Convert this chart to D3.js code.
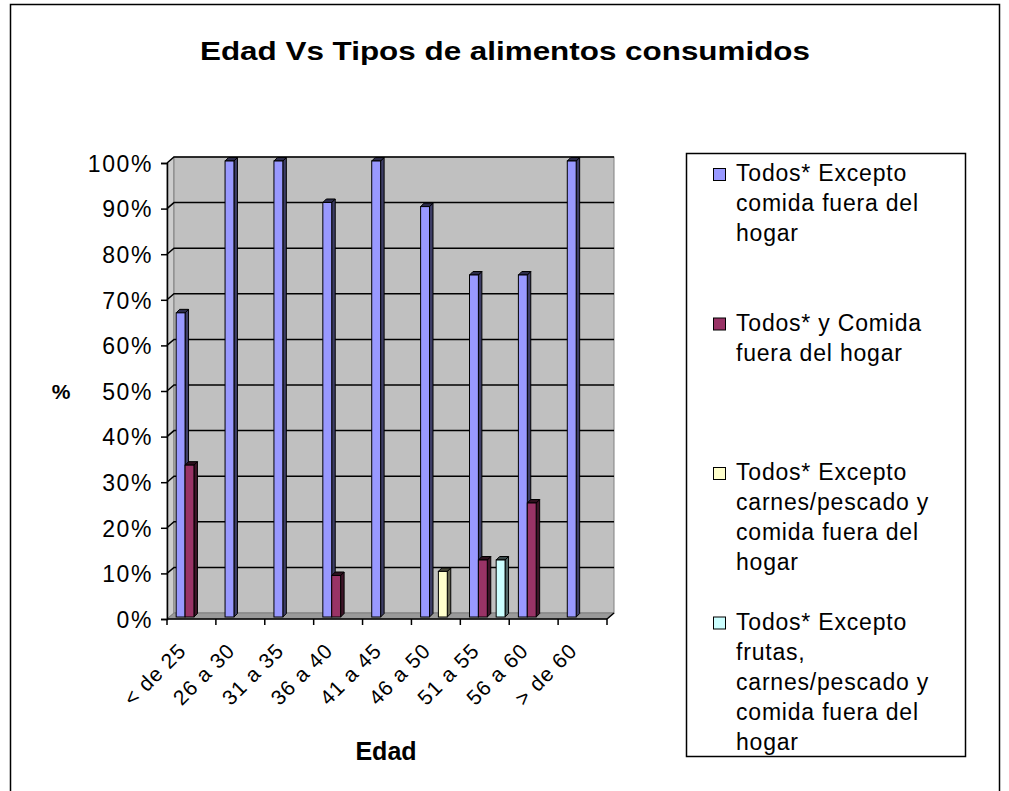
<!DOCTYPE html>
<html>
<head>
	<meta charset="utf-8">
	<script type="text/javascript" src="https://cdn.jsdelivr.net/npm/d3@7"></script>
	<style type="text/css">
		body { margin: 0; background: #fff; }
		text { font-family: Arial, "Liberation Sans", sans-serif; fill: #000; }
	</style>
</head>
<body>
<script type="text/javascript">

var categories = ["< de 25", "26 a 30", "31 a 35", "36 a 40", "41 a 45", "46 a 50", "51 a 55", "56 a 60", "> de 60"];

var todosExcepto = [66.7, 100, 100, 90.9, 100, 90, 75, 75, 100];
var todosYComida = [33.3, 0, 0, 9.1, 0, 0, 12.5, 25, 0];
var exceptoCarnes = [0, 0, 0, 0, 0, 10, 0, 0, 0];
var exceptoFrutas = [0, 0, 0, 0, 0, 0, 12.5, 0, 0];

var seriesColors = ["#9999ff", "#993366", "#ffffcc", "#ccffff"];

var legendLabels = [
	["Todos* Excepto", "comida fuera del", "hogar"],
	["Todos* y Comida", "fuera del hogar"],
	["Todos* Excepto", "carnes/pescado y", "comida fuera del", "hogar"],
	["Todos* Excepto", "frutas,", "carnes/pescado y", "comida fuera del", "hogar"]
];

var yTicks = [0, 10, 20, 30, 40, 50, 60, 70, 80, 90, 100];

var width = 1009,
	height = 791,
	depthX = 7,     // back wall offset
	depthY = -6,
	barDX = 3.5,    // bar depth
	barDY = -3.5,
	faceDX = 2.5,   // bar front plane offset
	faceDY = -2;

var allSeries = [todosExcepto, todosYComida, exceptoCarnes, exceptoFrutas];

var svg = d3.select("body").append("svg")
	.attr("width", width)
	.attr("height", height);

// outer frame
svg.append("rect")
	.attr("x", 10.5).attr("y", 4.5)
	.attr("width", 989).attr("height", 800)
	.attr("fill", "none").attr("stroke", "#000").attr("stroke-width", 1.5);

svg.append("text")
	.attr("x", 200).attr("y", 60)
	.attr("textLength", 610)
	.attr("lengthAdjust", "spacingAndGlyphs")
	.style("font-size", "26px").style("font-weight", "bold")
	.text("Edad Vs Tipos de alimentos consumidos");

var x = d3.scaleBand()
	.domain(categories)
	.range([167, 607])
	.paddingInner(0).paddingOuter(0);

var y = d3.scaleLinear()
	.domain([0, 100])
	.range([619, 163]);

var bw = x.bandwidth(),
	barW = bw / (allSeries.length + 1.5),
	barOff = barW * 0.75;

var x0 = x.range()[0], x1 = x.range()[1];

// side wall
svg.append("path")
	.attr("d", "M" + x0 + "," + y(0) + " L" + x0 + "," + y(100) + " L" + (x0 + depthX) + "," + (y(100) + depthY) + " L" + (x0 + depthX) + "," + (y(0) + depthY) + " Z")
	.attr("fill", "#cdcdcd").attr("stroke", "#808080");

// back wall
svg.append("rect")
	.attr("x", x0 + depthX).attr("y", y(100) + depthY)
	.attr("width", x1 - x0).attr("height", y(0) - y(100))
	.attr("fill", "#c0c0c0").attr("stroke", "#808080");

// floor
svg.append("path")
	.attr("d", "M" + x0 + "," + y(0) + " L" + x1 + "," + y(0) + " L" + (x1 + depthX) + "," + (y(0) + depthY) + " L" + (x0 + depthX) + "," + (y(0) + depthY) + " Z")
	.attr("fill", "#9a9a9a").attr("stroke", "#808080");

// gridlines
var grid = svg.append("g").attr("stroke", "#000").attr("stroke-width", 1.5).attr("fill", "none");
grid.selectAll("path")
	.data(yTicks.filter(function(t) { return t > 0; }))
  .enter().append("path")
	.attr("d", function(t) {
		return "M" + x0 + "," + y(t) + " L" + (x0 + depthX) + "," + (y(t) + depthY) + " H" + (x1 + depthX);
	});

// y axis
var yAxis = svg.append("g").attr("transform", "translate(" + x0 + ",0)")
	.call(d3.axisLeft(y).tickValues(yTicks).tickSize(6).tickPadding(10).tickFormat(function(d) { return d + "%"; }));
yAxis.select(".domain").attr("stroke-width", 1.5);
yAxis.selectAll(".tick line").attr("stroke-width", 1.5);
yAxis.selectAll(".tick text")
	.attr("font-family", null).attr("x", -14)
	.style("font-size", "23px").style("letter-spacing", "1.6px")
	.attr("dy", "0.36em");

svg.append("text")
	.attr("x", 61).attr("y", y(50) + 8)
	.attr("text-anchor", "middle")
	.style("font-size", "21px").style("font-weight", "bold")
	.text("%");

// x axis
var xAxis = svg.append("g").attr("transform", "translate(0," + y(0) + ")");
xAxis.append("line")
	.attr("x1", x0).attr("x2", x1).attr("y1", 0).attr("y2", 0)
	.attr("stroke", "#000").attr("stroke-width", 1.5);
xAxis.append("line")
	.attr("x1", x1).attr("x2", x1 + depthX).attr("y1", 0).attr("y2", depthY)
	.attr("stroke", "#000").attr("stroke-width", 1.5);
xAxis.selectAll("line.tick")
	.data(categories.concat(["end"]))
  .enter().append("line")
	.attr("class", "tick")
	.attr("x1", function(d, i) { return x0 + i * bw; })
	.attr("x2", function(d, i) { return x0 + i * bw; })
	.attr("y1", 0).attr("y2", 6)
	.attr("stroke", "#000").attr("stroke-width", 1.5);
xAxis.selectAll("text")
	.data(categories)
  .enter().append("text")
	.attr("text-anchor", "end")
	.attr("transform", function(d) { return "translate(" + (x(d) + bw / 2 - 4) + ",33) rotate(-45)"; })
	.style("font-size", "21px").style("letter-spacing", "1px")
	.text(function(d) { return d; });

svg.append("text")
	.attr("x", 386).attr("y", 760)
	.attr("text-anchor", "middle")
	.style("font-size", "25px").style("font-weight", "bold")
	.text("Edad");

// bars
var bars = [];
categories.forEach(function(c, ci) {
	allSeries.forEach(function(s, si) {
		if (s[ci] > 0) bars.push({ cat: c, series: si, value: s[ci] });
	});
});

var barG = svg.selectAll("g.bar")
	.data(bars)
  .enter().append("g")
	.attr("class", "bar")
	.attr("stroke", "#000").attr("stroke-width", 1);

barG.append("path")
	.attr("fill", function(d) { return d3.color(seriesColors[d.series]).darker(2.6); })
	.attr("d", function(d) {
		var b = barBox(d);
		return "M" + (b.left + barW) + "," + b.top + " l" + barDX + "," + barDY + " V" + (b.bottom + barDY) + " l" + (-barDX) + "," + (-barDY) + " Z";
	});

barG.append("path")
	.attr("fill", function(d) { return d3.color(seriesColors[d.series]).darker(3.5); })
	.attr("d", function(d) {
		var b = barBox(d);
		return "M" + b.left + "," + b.top + " l" + barDX + "," + barDY + " h" + barW + " l" + (-barDX) + "," + (-barDY) + " Z";
	});

barG.append("rect")
	.attr("fill", function(d) { return seriesColors[d.series]; })
	.attr("x", function(d) { return barBox(d).left; })
	.attr("y", function(d) { return barBox(d).top; })
	.attr("width", barW)
	.attr("height", function(d) { var b = barBox(d); return b.bottom - b.top; });

// legend
svg.append("rect")
	.attr("x", 686.5).attr("y", 153.5)
	.attr("width", 279).attr("height", 603)
	.attr("fill", "#fff").attr("stroke", "#000").attr("stroke-width", 1.5);

var legendItem = svg.selectAll("g.legend")
	.data(legendLabels)
  .enter().append("g")
	.attr("class", "legend")
	.attr("transform", function(d, i) { return "translate(713," + (164 + i * 149.5) + ")"; });

legendItem.append("rect")
	.attr("x", 0.5).attr("y", 4.5)
	.attr("width", 12).attr("height", 12)
	.attr("fill", function(d, i) { return seriesColors[i]; })
	.attr("stroke", "#000");

legendItem.selectAll("text")
	.data(function(d) { return d; })
  .enter().append("text")
	.attr("x", 23)
	.attr("y", function(d, i) { return 17 + i * 30; })
	.style("font-size", "23px").style("letter-spacing", "0.8px")
	.text(function(d) { return d; });

function barBox(d) {
	var left = x(d.cat) + barOff + d.series * barW + faceDX;
	return { left: left, top: y(d.value) + faceDY, bottom: y(0) + faceDY };
}

</script>
</body>
</html>
